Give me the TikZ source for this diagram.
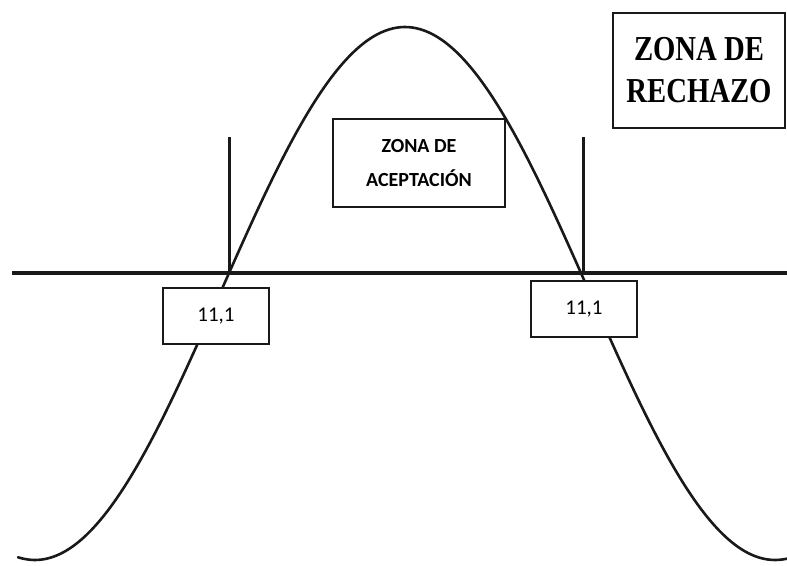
\documentclass[tikz,border=0pt]{standalone}
\usepackage{fontspec}
\newfontfamily\rechfont[FakeStretch=0.82]{Liberation Serif}
\newfontfamily\acepfont{Carlito}
\begin{document}
\begin{tikzpicture}[x=1pt,y=-1pt,
  zbox/.style={draw=black!90,line width=1.3pt,fill=white,inner sep=0pt,align=center},
  curve/.style={line width=2.6pt,black!90,line cap=round},
  axisline/.style={line width=4pt,black!90},
  limitline/.style={line width=3pt,black!90}]
\useasboundingbox (0,0) rectangle (787,565);
% axis
\coordinate (axL) at (12,273);
\coordinate (axR) at (787,273);
\draw[axisline] (axL) -- (axR);
% vertical limits
\coordinate (vLt) at (229,137);
\coordinate (vLb) at (229,273);
\coordinate (vRt) at (583,137);
\coordinate (vRb) at (583,273);
\draw[limitline] (vLt) -- (vLb);
\draw[limitline] (vRt) -- (vRb);
% bell curve
\draw[curve] plot[domain=18:787,samples=200,smooth] (\x,{293.5-266.5*cos(0.4864*(\x-405))});
% boxes
\node[zbox,minimum width=172pt,minimum height=115pt,
  font=\rechfont\bfseries\fontsize{35}{42}\selectfont] (rech) at (699,70.5) {ZONA DE\\RECHAZO};
\node[zbox,minimum width=172pt,minimum height=88pt,
  font=\acepfont\bfseries\fontsize{20}{34}\selectfont] (acep) at (419,163) {ZONA DE\\ACEPTACIÓN};
\node[zbox,minimum width=106pt,minimum height=56pt,
  font=\acepfont\fontsize{21}{25}\selectfont] (limL) at (216,316) {11,1};
\node[zbox,minimum width=106pt,minimum height=56pt,
  font=\acepfont\fontsize{21}{25}\selectfont] (limR) at (584,309) {11,1};
\end{tikzpicture}
\end{document}
